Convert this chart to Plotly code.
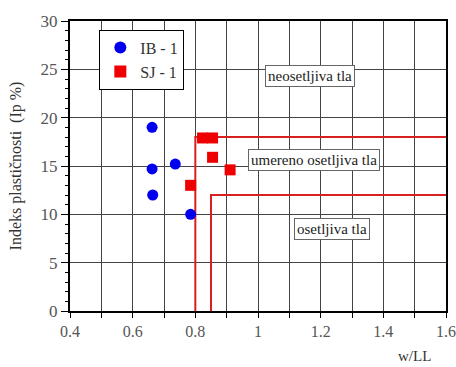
import plotly.graph_objects as go

ib_x = [0.662, 0.662, 0.736, 0.664, 0.785]
ib_y = [19.0, 14.7, 15.2, 12.0, 10.0]
sj_x = [0.823, 0.855, 0.855, 0.911, 0.785]
sj_y = [17.9, 17.9, 15.9, 14.6, 13.0]

b1_x = [0.8, 0.8, 1.6]
b1_y = [0, 18, 18]
b2_x = [0.85, 0.85, 1.6]
b2_y = [0, 12, 12]

zone_labels = ["neosetljiva tla", "umereno osetljiva tla", "osetljiva tla"]
zone_x = [1.166, 1.18, 1.236]
zone_y = [24.3, 15.6, 8.5]

FONT = "Liberation Serif"

fig = go.Figure()
fig.add_trace(go.Scatter(x=b1_x, y=b1_y, mode="lines", line=dict(color="#d92020", width=2), showlegend=False, hoverinfo="skip"))
fig.add_trace(go.Scatter(x=b2_x, y=b2_y, mode="lines", line=dict(color="#d92020", width=2), showlegend=False, hoverinfo="skip"))
fig.add_trace(go.Scatter(x=ib_x, y=ib_y, mode="markers", name="IB - 1",
                         marker=dict(symbol="circle", size=11, color="#0000ee")))
fig.add_trace(go.Scatter(x=sj_x, y=sj_y, mode="markers", name="SJ - 1",
                         marker=dict(symbol="square", size=11, color="#ee0000")))

for t, x, y in zip(zone_labels, zone_x, zone_y):
    fig.add_annotation(x=x, y=y, text=t, showarrow=False, bgcolor="white",
                       bordercolor="#666", borderwidth=1, borderpad=2,
                       font=dict(family=FONT, size=15, color="#222"))

fig.add_annotation(x=0.965, y=-0.155, xref="paper", yref="paper", text="w/LL", showarrow=False,
                   xanchor="right", yanchor="middle",
                   font=dict(family=FONT, size=15, color="#333"))

fig.update_layout(
    width=456, height=367,
    margin=dict(l=70, r=10, t=21, b=56, autoexpand=False),
    paper_bgcolor="white", plot_bgcolor="white",
    font=dict(family=FONT, size=15, color="#444"),
    legend=dict(x=0.078, y=0.97, xanchor="left", yanchor="top",
                bordercolor="black", borderwidth=1, bgcolor="white",
                font=dict(family=FONT, size=16, color="#333"),
                itemsizing="constant", tracegroupgap=0, itemwidth=30),
)

fig.update_xaxes(range=[0.4, 1.6], tickvals=[0.4, 0.6, 0.8, 1.0, 1.2, 1.4, 1.6],
                 ticktext=["0.4", "0.6", "0.8", "1", "1.2", "1.4", "1.6"],
                 ticks="outside", ticklen=5, tickcolor="black",
                 showgrid=True, gridcolor="#444", gridwidth=1,
                 showline=True, linecolor="black", linewidth=2, mirror=True,
                 zeroline=False, automargin=False,
                 minor=dict(dtick=0.1, tick0=0.4, ticks="outside", ticklen=5, tickcolor="black",
                            showgrid=True, gridcolor="#444", gridwidth=1),
                 tickfont=dict(family=FONT, size=16, color="#555"))
fig.update_yaxes(range=[0, 30], dtick=5, ticks="outside", ticklen=7, tickcolor="black",
                 showgrid=True, gridcolor="#444", gridwidth=1,
                 showline=True, linecolor="black", linewidth=2, mirror=True,
                 zeroline=False, automargin=False,
                 minor=dict(dtick=1, ticks="outside", ticklen=3, tickcolor="black", showgrid=False),
                 tickfont=dict(family=FONT, size=17, color="#555"),
                 title=dict(text="Indeks plastičnosti  (Ip %)",
                            font=dict(family=FONT, size=16, color="#333")))

fig.write_html("out.html")
